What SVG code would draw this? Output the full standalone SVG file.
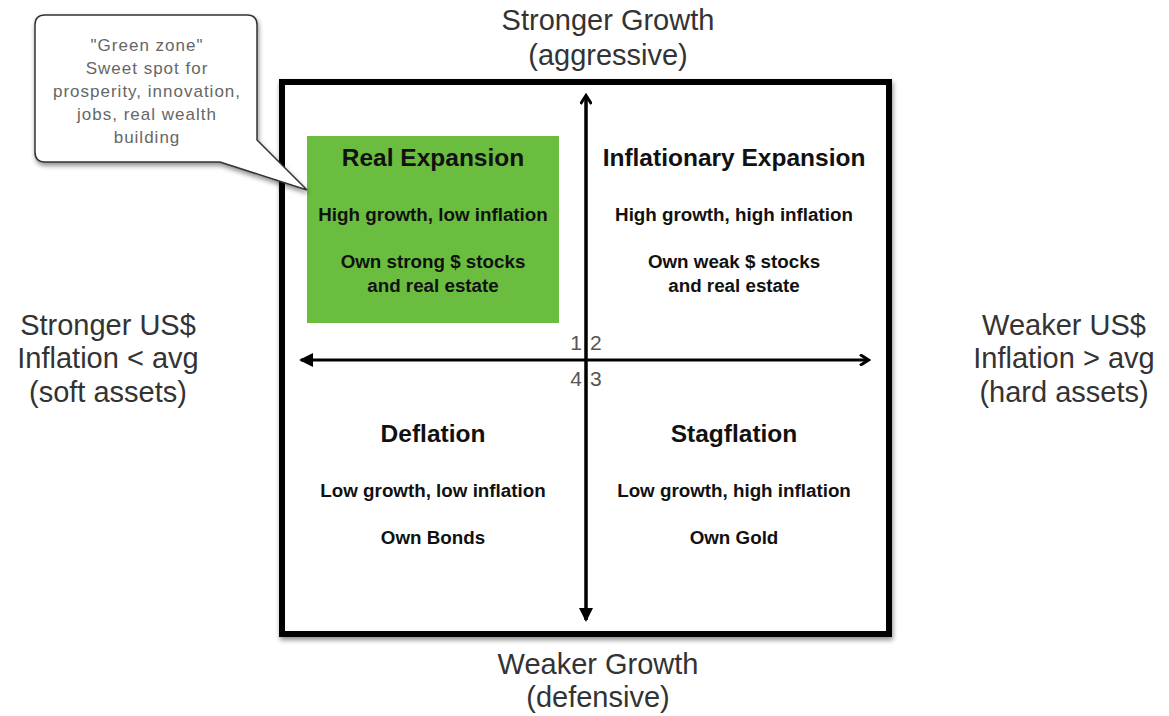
<svg xmlns="http://www.w3.org/2000/svg" width="1169" height="716" viewBox="0 0 1169 716">
<style>
.axis{font-family:"Liberation Sans",Arial,sans-serif;font-size:29px;fill:#333;text-anchor:middle}
.title{font-family:"Liberation Sans",Arial,sans-serif;font-size:24.5px;font-weight:bold;fill:#111;text-anchor:middle}
.sub{font-family:"Liberation Sans",Arial,sans-serif;font-size:18.8px;font-weight:bold;fill:#111;text-anchor:middle}
.num{font-family:"Liberation Sans",Arial,sans-serif;font-size:21px;fill:#555}
.call{font-family:"Liberation Sans",Arial,sans-serif;font-size:17px;letter-spacing:1px;fill:#666;text-anchor:middle}
.ax{stroke:#000;stroke-width:3;fill:none}
</style>
<defs>
<filter id="sh" x="-10%" y="-10%" width="130%" height="130%">
<feGaussianBlur in="SourceAlpha" stdDeviation="2.5"/>
<feOffset dx="1" dy="3"/>
<feComponentTransfer><feFuncA type="linear" slope="0.45"/></feComponentTransfer>
<feMerge><feMergeNode/><feMergeNode in="SourceGraphic"/></feMerge>
</filter>
<marker id="open" markerWidth="12" markerHeight="12" refX="9" refY="6" orient="auto" markerUnits="userSpaceOnUse" viewBox="0 0 12 12">
<path d="M1,0.5 L9.5,6 L1,11.5" fill="none" stroke="#000" stroke-width="3"/>
</marker>
<marker id="fill" markerWidth="14" markerHeight="14" refX="12" refY="7" orient="auto" markerUnits="userSpaceOnUse" viewBox="0 0 14 14">
<path d="M0,0 L14,7 L0,14 Z" fill="#000"/>
</marker>
</defs>
<rect width="1169" height="716" fill="#fff"/>

<g id="frame">
<rect x="282" y="82" width="607" height="552" fill="#fff" stroke="#000" stroke-width="6" filter="url(#sh)"/>
</g>

<g id="green-zone">
<rect x="307" y="136" width="252" height="187" fill="#6abd3f"/>
</g>

<g id="connectors">
<line class="ax" x1="586" y1="620" x2="586" y2="96" marker-end="url(#open)"/>
<line class="ax" x1="586" y1="100" x2="586" y2="620" marker-end="url(#fill)"/>
<line class="ax" x1="586" y1="360" x2="868" y2="360" marker-end="url(#open)"/>
<line class="ax" x1="586" y1="360" x2="301" y2="360" marker-end="url(#fill)"/>
</g>

<g id="callout">
<path d="M45,15 H247 Q257,15 257,25 V140 L307,190 L220,162 H45 Q35,162 35,152 V25 Q35,15 45,15 Z" fill="#fff" stroke="#333" stroke-width="1.5" filter="url(#sh)"/>
<text class="call" x="147" y="51">"Green zone"</text>
<text class="call" x="147" y="74">Sweet spot for</text>
<text class="call" x="147" y="97">prosperity, innovation,</text>
<text class="call" x="147" y="120">jobs, real wealth</text>
<text class="call" x="147" y="143">building</text>
</g>

<g id="top-label">
<text class="axis" x="608" y="30">Stronger Growth</text>
<text class="axis" x="608" y="65">(aggressive)</text>
</g>
<g id="bottom-label">
<text class="axis" x="598" y="674">Weaker Growth</text>
<text class="axis" x="598" y="707">(defensive)</text>
</g>
<g id="left-label">
<text class="axis" x="108" y="335">Stronger US$</text>
<text class="axis" x="108" y="368">Inflation &lt; avg</text>
<text class="axis" x="108" y="402">(soft assets)</text>
</g>
<g id="right-label">
<text class="axis" x="1064" y="335">Weaker US$</text>
<text class="axis" x="1064" y="368">Inflation &gt; avg</text>
<text class="axis" x="1064" y="402">(hard assets)</text>
</g>

<g id="q1">
<text class="title" x="433" y="166">Real Expansion</text>
<text class="sub" x="433" y="221">High growth, low inflation</text>
<text class="sub" x="433" y="268">Own strong $ stocks</text>
<text class="sub" x="433" y="292">and real estate</text>
</g>
<g id="q2">
<text class="title" x="734" y="166">Inflationary Expansion</text>
<text class="sub" x="734" y="221">High growth, high inflation</text>
<text class="sub" x="734" y="268">Own weak $ stocks</text>
<text class="sub" x="734" y="292">and real estate</text>
</g>
<g id="q4">
<text class="title" x="433" y="442">Deflation</text>
<text class="sub" x="433" y="497">Low growth, low inflation</text>
<text class="sub" x="433" y="544">Own Bonds</text>
</g>
<g id="q3">
<text class="title" x="734" y="442">Stagflation</text>
<text class="sub" x="734" y="497">Low growth, high inflation</text>
<text class="sub" x="734" y="544">Own Gold</text>
</g>

<g id="numbers">
<text class="num" x="582" y="350" text-anchor="end">1</text>
<text class="num" x="590" y="350">2</text>
<text class="num" x="582" y="386" text-anchor="end">4</text>
<text class="num" x="590" y="386">3</text>
</g>
</svg>
